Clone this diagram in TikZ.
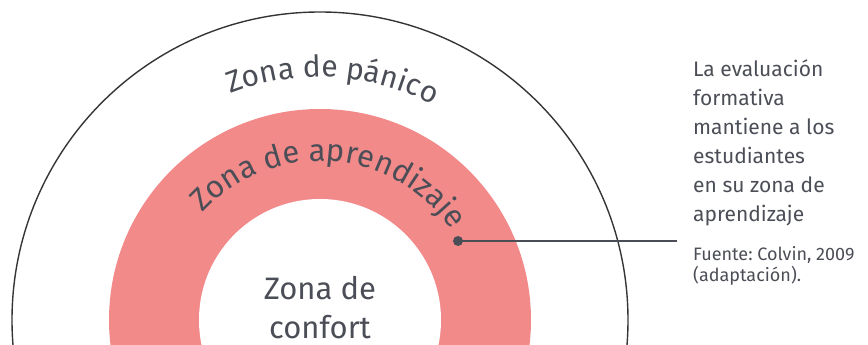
\documentclass[tikz,border=0pt]{standalone}
\usepackage{fontspec}
\setmainfont{Fira Sans}
\usetikzlibrary{decorations.text}
\frenchspacing
\definecolor{ink}{HTML}{4B4E56}
\definecolor{ringpink}{HTML}{F28A8A}
\definecolor{rim}{HTML}{353535}
\newcommand{\curvefont}{\fontsize{30}{36}\selectfont}
\newcommand{\ringfont}{\fontsize{31}{36}\selectfont}
\tikzset{
  curvetext/.style={decorate, decoration={text along path, text align=center, text color=ink, text={#1}}},
  bodytext/.style={ink, anchor=base west, align=left, inner sep=0pt, font=\fontsize{21}{29}\selectfont},
  sourcetext/.style={ink, anchor=base west, align=left, inner sep=0pt, font=\fontsize{18}{21.5}\selectfont},
  centertext/.style={ink, anchor=base, align=center, inner sep=0pt, font=\fontsize{31}{39}\selectfont},
  pointer/.style={ink, line width=2.5pt},
  pointdot/.style={circle, fill=ink, inner sep=0pt, minimum size=10pt}
}
\begin{document}
\begin{tikzpicture}[x=1pt,y=1pt]
\useasboundingbox (0,0) rectangle (868,345);
\coordinate (c) at (320,25);
\begin{scope}
\clip (0,0) rectangle (868,345);
\fill[ringpink] (c) circle (211);
\fill[white] (c) circle (121);
\draw[rim, line width=1.4pt] (c) circle (308);
\end{scope}
\path[curvetext={|\curvefont|Zona de pánico}] (c) ++(177:243) arc (177:-3:243);
\path[curvetext={|\ringfont|Zona de aprendizaje}] (c) ++(176:159) arc (176:-4:159);
\node[centertext] (confort) at (320,6) {Zona de\\confort};
\node[pointdot] (dot) at (458,104) {};
\coordinate (lineend) at (677,104);
\draw[pointer] (dot.center) -- (lineend);
\node[bodytext] (body) at (693,123.3) {La evaluación\\formativa\\mantiene a los\\estudiantes\\en su zona de\\aprendizaje};
\node[sourcetext] (source) at (693,63.3) {Fuente: Colvin, 2009\\(adaptación).};
\end{tikzpicture}
\end{document}
